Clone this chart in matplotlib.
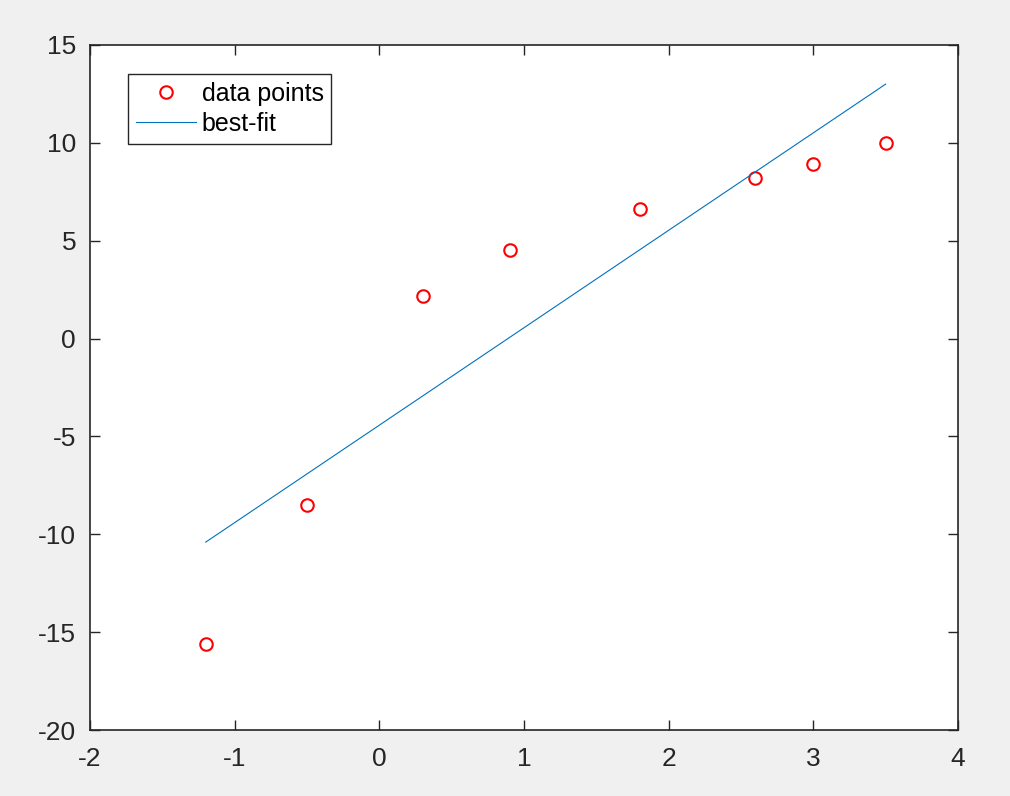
import matplotlib.pyplot as plt

# data
x = [-1.2, -0.5, 0.3, 0.9, 1.8, 2.6, 3.0, 3.5]
y = [-15.6, -8.5, 2.2, 4.5, 6.6, 8.2, 8.9, 10.0]

# best-fit line end points
fit_x = [-1.2, 3.5]
fit_y = [-10.4, 13.0]

plt.rcParams['font.family'] = ['Liberation Sans', 'DejaVu Sans']
plt.rcParams['axes.unicode_minus'] = False

fig = plt.figure(figsize=(10.1, 7.96), dpi=100, facecolor='#f0f0f0')
ax = fig.add_axes([0.0891, 0.0829, 0.8594, 0.8606])

ax.plot(x, y, 'o', mfc='none', mec='#ff0000', ms=9, mew=1.5, label='data points')
ax.plot(fit_x, fit_y, color='#0072bd', lw=0.8, label='best-fit')

ax.set_xlim(-2, 4)
ax.set_ylim(-20, 15)
ax.set_xticks(range(-2, 5))
ax.set_yticks(range(-20, 16, 5))

for s in ax.spines.values():
    s.set_linewidth(1.2)
    s.set_color('#262626')
ax.tick_params(direction='in', top=True, right=True, length=7, width=1,
               color='#262626', labelcolor='#262626', labelsize=19)
ax.tick_params(axis='x', pad=12)
ax.tick_params(axis='y', pad=10)

leg = ax.legend(loc='upper left', bbox_to_anchor=(0.044, 0.957), fontsize=18,
                fancybox=False, framealpha=1, edgecolor='#262626',
                borderpad=0.3, handlelength=2.4, handletextpad=0.25,
                labelspacing=0.25, borderaxespad=0)
leg.get_frame().set_linewidth(1.0)

fig.savefig('out.png', dpi=100, facecolor=fig.get_facecolor())
